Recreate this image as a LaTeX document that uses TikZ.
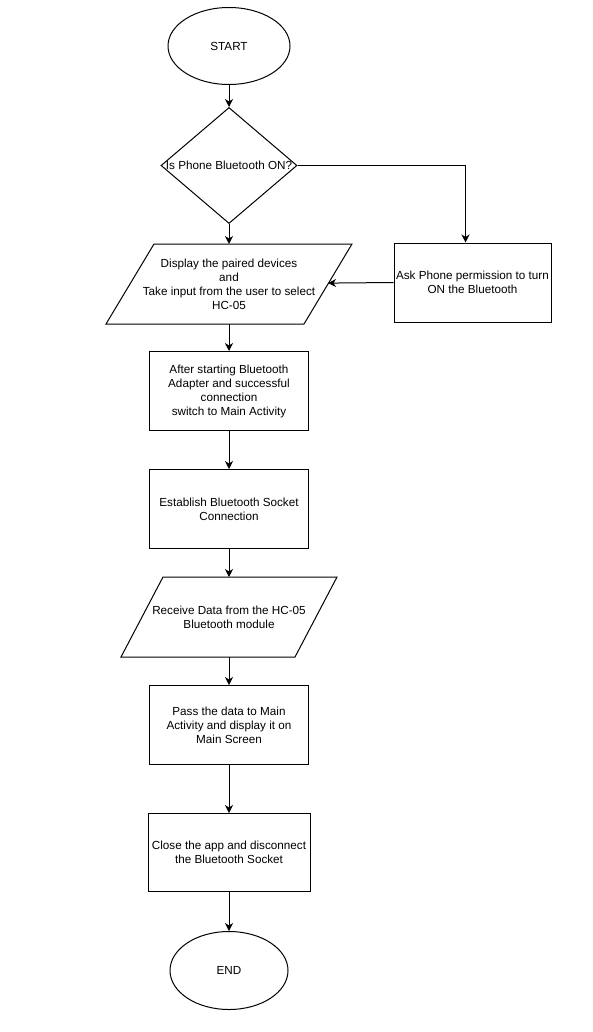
\documentclass[tikz,border=0pt]{standalone}
\usepackage{fontspec}
\setmainfont{Liberation Sans}
\usetikzlibrary{arrows.meta,positioning,shapes.geometric}

\begin{document}
\begin{tikzpicture}[
  x=1pt,y=-1pt,
  font=\fontsize{11.7}{14}\selectfont,
  line width=1pt,
  every node/.style={align=center,inner sep=1pt},
  term/.style={draw,ellipse,minimum width=122pt,minimum height=77pt},
  decide/.style={draw,diamond,minimum width=136pt,minimum height=116pt,inner sep=0pt},
  io/.style={rectangle,minimum height=79pt},
  proc/.style={draw,rectangle,minimum width=159pt,minimum height=79pt},
  arr/.style={-{Stealth[length=8pt,width=8pt,inset=2.5pt]}}
]
\fill[white] (0,0) rectangle (592,1032);
\useasboundingbox (0,0) rectangle (592,1032);

\node[term] (start) at (229,46) {START};
\node[decide,below=22pt of start] (check) {\makebox[0pt]{Is Phone Bluetooth ON?}};
\node[io,minimum width=197pt,below=20pt of check] (paired) {Display the paired devices\\and\\Take input from the user to select\\HC-05};
\node[proc,minimum width=157pt] (ask) at (472.5,282.5) {Ask Phone permission to turn\\ON the Bluetooth};
\node[proc,below=27pt of paired] (adapter) {After starting Bluetooth\\Adapter and successful\\connection\\switch to Main Activity};
\node[proc,below=38pt of adapter] (socket) {Establish Bluetooth Socket\\Connection};
\node[io,minimum width=173pt,below=28pt of socket] (receive) {Receive Data from the HC-05\\Bluetooth module};
\node[proc,below=28pt of receive] (pass) {Pass the data to Main\\Activity and display it on\\Main Screen};
\node[proc,minimum width=162pt,minimum height=78pt,below=48pt of pass] (close) {Close the app and disconnect\\the Bluetooth Socket};
\node[term,minimum width=118pt,minimum height=78pt,below=39pt of close] (end) {END};

% slanted input/output boxes
\draw ([xshift=24pt]paired.north west) -- ([xshift=24pt]paired.north east)
  -- ([xshift=-24pt]paired.south east) -- ([xshift=-24pt]paired.south west) -- cycle;
\draw ([xshift=21pt]receive.north west) -- ([xshift=21pt]receive.north east)
  -- ([xshift=-21pt]receive.south east) -- ([xshift=-21pt]receive.south west) -- cycle;

\draw[arr] (start) -- (check);
\draw[arr] (check) -- (paired);
\draw[arr] (check.east) -| ([xshift=-7pt]ask.north);
\draw[arr] (ask.west) -- (paired);
\draw[arr] (paired) -- (adapter);
\draw[arr] (adapter) -- (socket);
\draw[arr] (socket) -- (receive);
\draw[arr] (receive) -- (pass);
\draw[arr] (pass) -- (close);
\draw[arr] (close) -- (end);
\end{tikzpicture}
\end{document}
